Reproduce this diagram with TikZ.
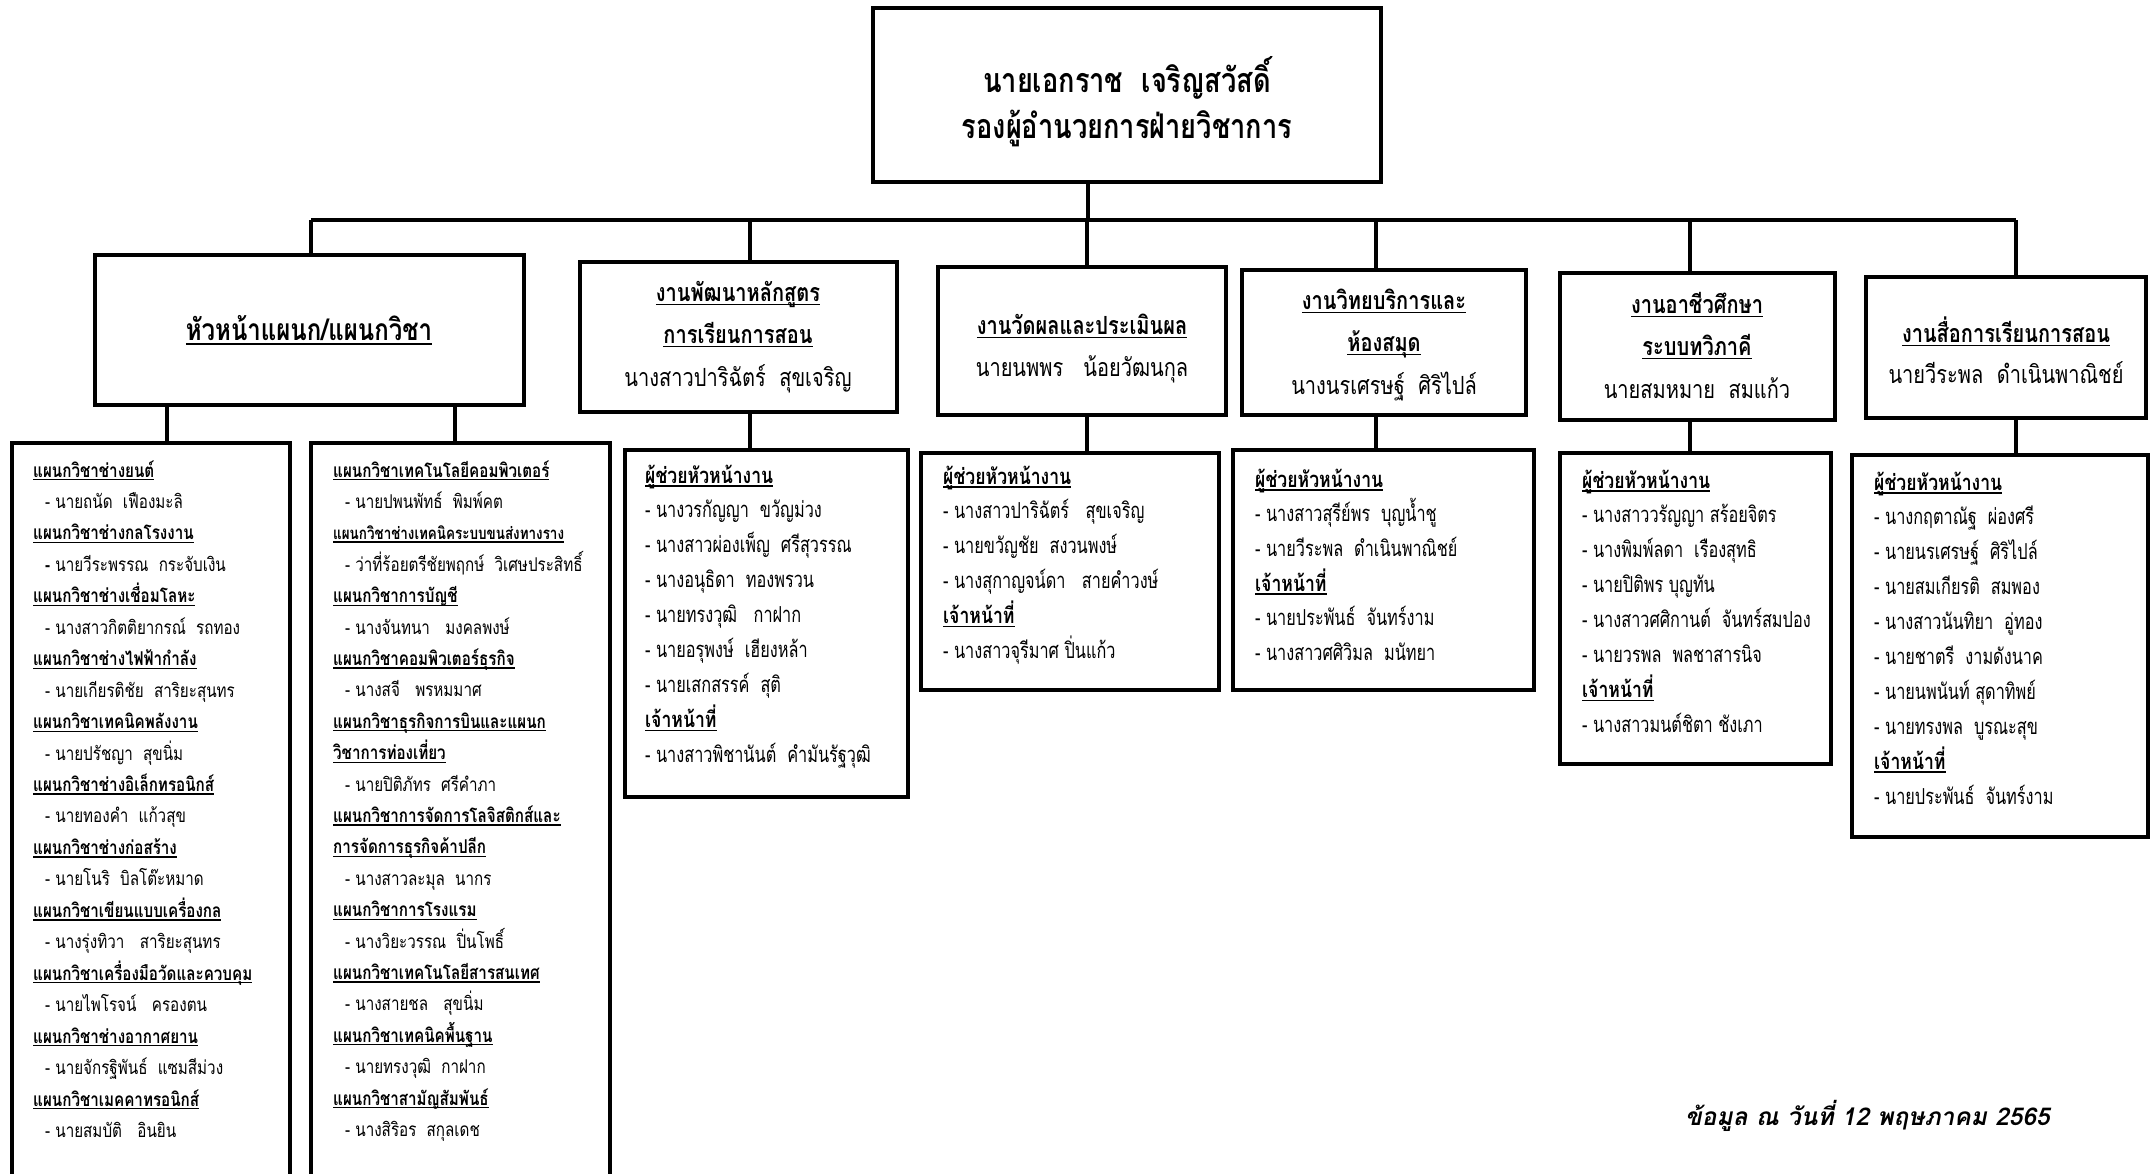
\documentclass[tikz,border=0pt]{standalone}
\usepackage{fontspec}
\setmainfont{Loma}[Script=Thai,FakeStretch=0.8]
\newfontfamily\namefont{Loma}[Script=Thai,FakeStretch=0.74]
\newfontfamily\datefont{Loma}[Script=Thai,FakeSlant=0.2]
\usetikzlibrary{fit}
\newsavebox\ulbox
\newcommand\ulx[1]{\sbox\ulbox{#1}\rlap{\rule[-0.17em]{\wd\ulbox}{0.07em}}\usebox\ulbox}
\newcommand\fs[1]{\fontsize{#1}{#1}\selectfont}
\tikzset{
  box/.style={draw, line width=4.5pt, inner sep=0pt},
  conn/.style={line width=4.5pt},
  ttl/.style={inner sep=0pt, anchor=base, font=\fs{34}\bfseries},
  hdb/.style={inner sep=0pt, anchor=base, font=\fs{25}\bfseries},
  hdn/.style={inner sep=0pt, anchor=base, font=\fs{25}},
  l1H/.style={inner sep=0pt, anchor=base west, font=\fs{19}\bfseries},
  l1S/.style={inner sep=0pt, anchor=base west, font=\fs{16.8}\bfseries},
  l1N/.style={inner sep=0pt, anchor=base west, font=\fs{19}, xshift=12pt},
  lH/.style={inner sep=0pt, anchor=base west, font=\fs{22}\bfseries},
  lN/.style={inner sep=0pt, anchor=base west, font=\namefont\fs{22}},
}
\begin{document}
\begin{tikzpicture}[x=1pt,y=-1pt]
\useasboundingbox (0,0) rectangle (2152,1173);
\fill[white] (0,0) rectangle (2152,1173);
\clip (0,0) rectangle (2152,1173);

% boxes
\node[box, fit={(873,8) (1381,182)}] (top) {};
\node[box, fit={(95,255) (524,405)}] (b1) {};
\node[box, fit={(580,262) (897,412)}] (b2) {};
\node[box, fit={(938,267) (1226,415)}] (b3) {};
\node[box, fit={(1242,270) (1526,415)}] (b4) {};
\node[box, fit={(1560,273) (1835,420)}] (b5) {};
\node[box, fit={(1866,277) (2146,418)}] (b6) {};
\node[box, fit={(12,443) (290,1200)}] (l1a) {};
\node[box, fit={(311,443) (610,1200)}] (l1b) {};
\node[box, fit={(625,450) (908,797)}] (l2) {};
\node[box, fit={(921,453) (1219,690)}] (l3) {};
\node[box, fit={(1233,450) (1534,690)}] (l4) {};
\node[box, fit={(1560,453) (1831,764)}] (l5) {};
\node[box, fit={(1852,455) (2148,837)}] (l6) {};

% connectors
\coordinate (t0) at (1088,220);
\coordinate (t1) at (311,220);
\coordinate (t2) at (750,220);
\coordinate (t3) at (1087,220);
\coordinate (t4) at (1376,220);
\coordinate (t5) at (1690,220);
\coordinate (t6) at (2016,220);
\coordinate (d1) at (167,0);
\coordinate (d2) at (455,0);
\draw[conn] (top.south -| t0) -- (t0);
\draw[conn] (t1) -- (t6);
\foreach \j in {1,...,6} \draw[conn] (t\j) -- (t\j |- b\j.north);
\draw[conn] (b1.south -| d1) -- (l1a.north -| d1);
\draw[conn] (b1.south -| d2) -- (l1b.north -| d2);
\foreach \j in {2,...,6} \draw[conn] (b\j.south -| t\j) -- (l\j.north -| t\j);

% title
\node[ttl] (ttl1) at (1127,92) {นายเอกราช~~เจริญสวัสดิ์};
\node[ttl] (ttl2) at (1127,138) {รองผู้อำนวยการฝ่ายวิชาการ};

% header texts
\node[inner sep=0pt, anchor=base, font=\fs{30}\bfseries] (b1t) at (309,340) {\ulx{หัวหน้าแผนก/แผนกวิชา}};
\node[hdb] (b2a) at (738,301) {\ulx{งานพัฒนาหลักสูตร}};
\node[hdb] (b2b) at (738,343) {\ulx{การเรียนการสอน}};
\node[hdn] (b2c) at (738,386) {นางสาวปาริฉัตร์~~สุขเจริญ};
\node[hdb] (b3a) at (1082,334) {\ulx{งานวัดผลและประเมินผล}};
\node[hdn] (b3b) at (1082,376) {นายนพพร~~~น้อยวัฒนกุล};
\node[hdb] (b4a) at (1384,309) {\ulx{งานวิทยบริการและ}};
\node[hdb] (b4b) at (1384,351) {\ulx{ห้องสมุด}};
\node[hdn] (b4c) at (1384,394) {นางนรเศรษฐ์~~ศิริไปล์};
\node[hdb] (b5a) at (1697,313) {\ulx{งานอาชีวศึกษา}};
\node[hdb] (b5b) at (1697,355) {\ulx{ระบบทวิภาคี}};
\node[hdn] (b5c) at (1697,398) {นายสมหมาย~~สมแก้ว};
\node[hdb] (b6a) at (2006,342) {\ulx{งานสื่อการเรียนการสอน}};
\node[hdn] (b6b) at (2006,383) {นายวีระพล~~ดำเนินพาณิชย์};

% list 1 (left column)
\foreach [count=\i] \k/\t in {
  H/\ulx{แผนกวิชาช่างยนต์}, N/- นายถนัด~~เฟืองมะลิ,
  H/\ulx{แผนกวิชาช่างกลโรงงาน}, N/{\bfseries -} นายวีระพรรณ~~กระจับเงิน,
  H/\ulx{แผนกวิชาช่างเชื่อมโลหะ}, N/- นางสาวกิตติยากรณ์~~รถทอง,
  H/\ulx{แผนกวิชาช่างไฟฟ้ากำลัง}, N/- นายเกียรติชัย~~สาริยะสุนทร,
  H/\ulx{แผนกวิชาเทคนิคพลังงาน}, N/- นายปรัชญา~~สุขนิ่ม,
  H/\ulx{แผนกวิชาช่างอิเล็กทรอนิกส์}, N/- นายทองคำ~~แก้วสุข,
  H/\ulx{แผนกวิชาช่างก่อสร้าง}, N/- นายโนริ~~บิลโต๊ะหมาด,
  H/\ulx{แผนกวิชาเขียนแบบเครื่องกล}, N/- นางรุ่งทิวา~~~สาริยะสุนทร,
  H/\ulx{แผนกวิชาเครื่องมือวัดและควบคุม}, N/- นายไพโรจน์~~~ครองตน,
  H/\ulx{แผนกวิชาช่างอากาศยาน}, N/- นายจักรฐิพันธ์~~แซมสีม่วง,
  H/\ulx{แผนกวิชาเมคคาทรอนิกส์}, N/- นายสมบัติ~~~อินยิน}
  \node[l1\k] (pa\i) at (33,{477+31.45*(\i-1)}) {\t};

% list 1 (second column)
\foreach [count=\i] \k/\t in {
  H/\ulx{แผนกวิชาเทคโนโลยีคอมพิวเตอร์}, N/- นายปพนพัทธ์~~พิมพ์คต,
  S/\ulx{แผนกวิชาช่างเทคนิคระบบขนส่งทางราง}, N/- ว่าที่ร้อยตรีชัยพฤกษ์~~วิเศษประสิทธิ์,
  H/\ulx{แผนกวิชาการบัญชี}, N/- นางจันทนา~~~มงคลพงษ์,
  H/\ulx{แผนกวิชาคอมพิวเตอร์ธุรกิจ}, N/- นางสจี~~~พรหมมาศ,
  H/\ulx{แผนกวิชาธุรกิจการบินและแผนก}, H/\ulx{วิชาการท่องเที่ยว}, N/- นายปิติภัทร~~ศรีคำภา,
  H/\ulx{แผนกวิชาการจัดการโลจิสติกส์และ}, H/\ulx{การจัดการธุรกิจค้าปลีก}, N/- นางสาวละมุล~~นากร,
  H/\ulx{แผนกวิชาการโรงแรม}, N/- นางวิยะวรรณ~~ปิ่นโพธิ์,
  H/\ulx{แผนกวิชาเทคโนโลยีสารสนเทศ}, N/- นางสายชล~~~สุขนิ่ม,
  H/\ulx{แผนกวิชาเทคนิคพื้นฐาน}, N/- นายทรงวุฒิ~~กาฝาก,
  H/\ulx{แผนกวิชาสามัญสัมพันธ์}, N/- นางสิริอร~~สกุลเดช}
  \node[l1\k] (pb\i) at (333,{477+31.4*(\i-1)}) {\t};

% list 2
\foreach [count=\i] \k/\t in {
  H/\ulx{ผู้ช่วยหัวหน้างาน}, N/- นางวรกัญญา~~ขวัญม่วง, N/- นางสาวผ่องเพ็ญ~~ศรีสุวรรณ,
  N/- นางอนุธิดา~~ทองพรวน, N/- นายทรงวุฒิ~~~กาฝาก, N/- นายอรุพงษ์~~เฮียงหล้า,
  N/- นายเสกสรรค์~~สุติ, H/\ulx{เจ้าหน้าที่}, N/- นางสาวพิชานันต์~~คำมันรัฐวุฒิ}
  \node[l\k] (pc\i) at (645,{483+34.9*(\i-1)}) {\t};

% list 3
\foreach [count=\i] \k/\t in {
  H/\ulx{ผู้ช่วยหัวหน้างาน}, N/- นางสาวปาริฉัตร์~~~สุขเจริญ, N/- นายขวัญชัย~~สงวนพงษ์,
  N/- นางสุกาญจน์ดา~~~สายคำวงษ์, H/\ulx{เจ้าหน้าที่}, N/- นางสาวจุรีมาศ ปิ่นแก้ว}
  \node[l\k] (pd\i) at (943,{484+34.9*(\i-1)}) {\t};

% list 4
\foreach [count=\i] \k/\t in {
  H/\ulx{ผู้ช่วยหัวหน้างาน}, N/- นางสาวสุรีย์พร~~บุญน้ำชู, N/- นายวีระพล~~ดำเนินพาณิชย์,
  H/\ulx{เจ้าหน้าที่}, N/- นายประพันธ์~~จันทร์งาม, N/- นางสาวศศิวิมล~~มนัทยา}
  \node[l\k] (pe\i) at (1255,{487+34.7*(\i-1)}) {\t};

% list 5
\foreach [count=\i] \k/\t in {
  H/\ulx{ผู้ช่วยหัวหน้างาน}, N/- นางสาววรัญญา สร้อยจิตร, N/- นางพิมพ์ลดา~~เรืองสุทธิ,
  N/- นายปิติพร บุญทัน, N/- นางสาวศศิกานต์~~จันทร์สมปอง, N/- นายวรพล~~พลชาสารนิจ,
  H/\ulx{เจ้าหน้าที่}, N/- นางสาวมนต์ชิตา ชังเภา}
  \node[l\k] (pf\i) at (1582,{488+34.9*(\i-1)}) {\t};

% list 6
\foreach [count=\i] \k/\t in {
  H/\ulx{ผู้ช่วยหัวหน้างาน}, N/- นางกฤตาณัฐ~~ผ่องศรี, N/- นายนรเศรษฐ์~~ศิริไปล์,
  N/- นายสมเกียรติ~~สมพอง, N/- นางสาวนันทิยา~~อู่ทอง, N/- นายชาตรี~~งามดังนาค,
  N/- นายนพนันท์ สุดาทิพย์, N/- นายทรงพล~~บูรณะสุข, H/\ulx{เจ้าหน้าที่},
  N/- นายประพันธ์~~จันทร์งาม}
  \node[l\k] (pg\i) at (1874,{490+34.9*(\i-1)}) {\t};

% date
\node[inner sep=0pt, anchor=base west, font=\datefont\fs{24.5}\bfseries] (date) at (1685,1125) {ข้อมูล ณ วันที่ 12 พฤษภาคม 2565};
\end{tikzpicture}
\end{document}
